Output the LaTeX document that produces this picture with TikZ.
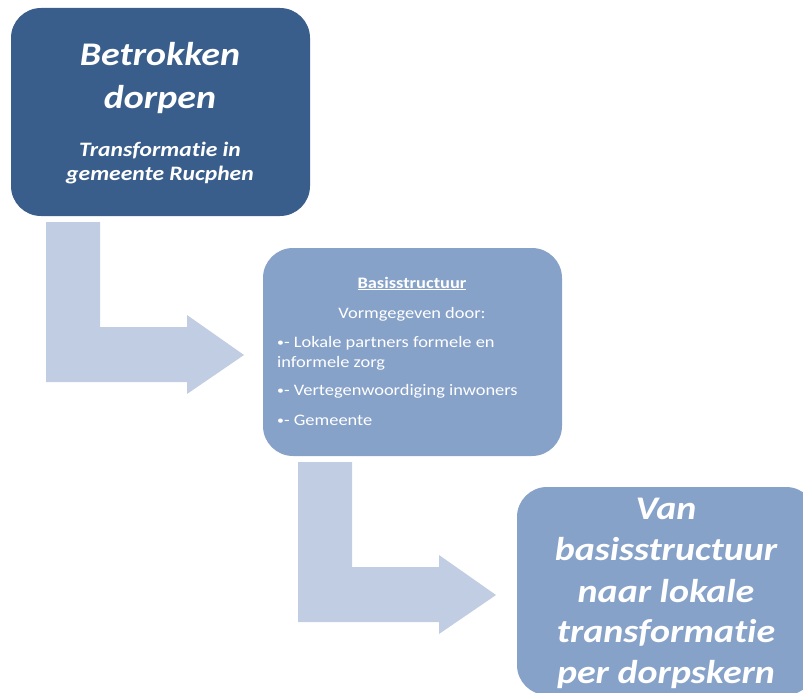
\documentclass[tikz,border=0pt]{standalone}
\usepackage{fontspec}
\setmainfont[FakeStretch=1.15, Ligatures=NoCommon]{Carlito}
\definecolor{darkbox}{HTML}{3A5E8B}
\definecolor{lightbox}{HTML}{87A2C9}
\definecolor{arrowfill}{HTML}{C1CDE2}
\newcommand{\smallbullet}{{\fontsize{12}{12}\selectfont\raisebox{0.6pt}{•}}}
\begin{document}
\begin{tikzpicture}[x=1pt,y=-1pt,
  box/.style={rounded corners=30pt, minimum width=299pt, minimum height=208pt, inner sep=0pt, draw=none},
  bigtxt/.style={font=\fontsize{33}{41}\selectfont\bfseries\itshape, text=white, anchor=base, inner sep=0pt},
  subtxt/.style={font=\fontsize{20.5}{25}\selectfont\bfseries\itshape, text=white, anchor=base, inner sep=0pt},
  midtxt/.style={font=\fontsize{16}{20}\selectfont, text=white, anchor=base, inner sep=0pt},
  lefttxt/.style={midtxt, anchor=base west},
  bentarrow/.style={fill=arrowfill, draw=none}]
\useasboundingbox (0,0) rectangle (803,693);
\begin{scope}
\clip (0,0) rectangle (803,693);
% arrows
\fill[bentarrow] (46,222) -- (100,222) -- (100,327) -- (187,327) -- (187,315) -- (244,355) -- (187,394) -- (187,382) -- (46,382) -- cycle;
\fill[bentarrow] (298,462) -- (352,462) -- (352,567) -- (439,567) -- (439,555) -- (496,595) -- (439,634) -- (439,622) -- (298,622) -- cycle;
% boxes
\node[box, fill=darkbox] (b1) at (160.5,112) {};
\node[box, fill=lightbox] (b2) at (412.5,352) {};
\node[box, fill=lightbox] (b3) at (666.5,591) {};
% box 1 text
\node[bigtxt] (t1a) at (160,66) {Betrokken};
\node[bigtxt] (t1b) at (160,108) {dorpen};
\node[subtxt] (t1c) at (160,156) {Transformatie in};
\node[subtxt] (t1d) at (160,180) {gemeente Rucphen};
% box 2 text
\node[midtxt, font=\fontsize{16}{20}\selectfont\bfseries] (t2a) at (412,288) {\underline{Basisstructuur}};
\node[midtxt] (t2b) at (412,318) {Vormgegeven door:};
\node[lefttxt] (t2c) at (277,347) {\smallbullet- Lokale partners formele en};
\node[lefttxt] (t2d) at (277,367) {informele zorg};
\node[lefttxt] (t2e) at (277,395) {\smallbullet- Vertegenwoordiging inwoners};
\node[lefttxt] (t2f) at (277,425) {\smallbullet- Gemeente};
% box 3 text
\node[bigtxt] (t3a) at (666,519) {Van};
\node[bigtxt] (t3b) at (666,560) {basisstructuur};
\node[bigtxt] (t3c) at (666,602) {naar lokale};
\node[bigtxt] (t3d) at (666,642) {transformatie};
\node[bigtxt] (t3e) at (666,683) {per dorpskern};
\end{scope}
\end{tikzpicture}
\end{document}
